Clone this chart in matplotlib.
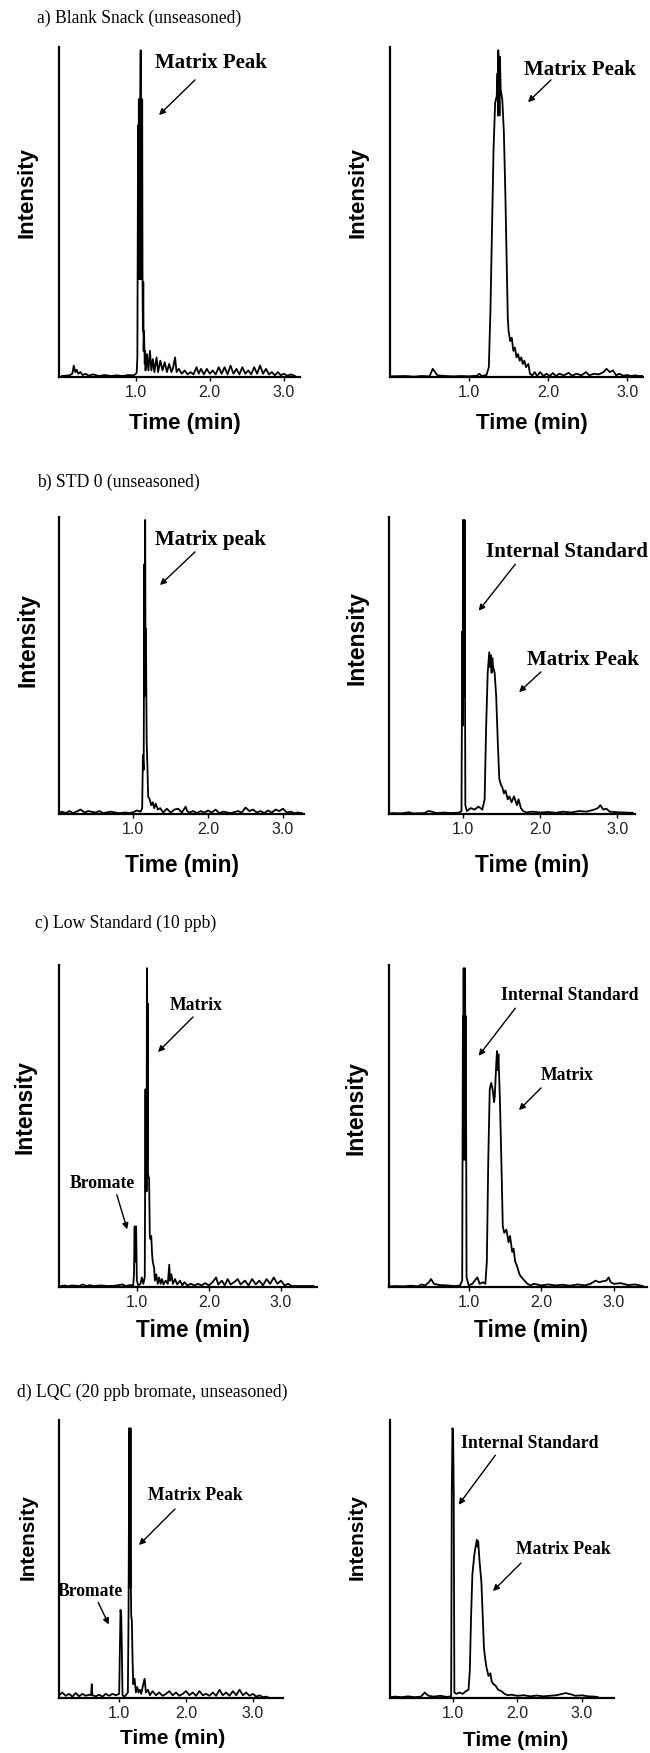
import matplotlib
matplotlib.use("Agg")
import matplotlib.pyplot as plt
import numpy as np

W, H = 650, 1753
SERIF = "Liberation Serif"
SANS = "Liberation Sans"

# chromatograms: (time in min, intensity in % of full scale)
a_left = [(0.0, 0.3), (0.1, 0.5), (0.14, 1.0), (0.16, 3.5), (0.18, 1.5), (0.2, 2.2), (0.22, 1.0),
          (0.25, 1.5), (0.28, 0.6), (0.32, 1.0), (0.36, 0.4), (0.42, 0.8), (0.5, 0.3), (0.58, 0.6),
          (0.66, 0.3), (0.74, 0.5), (0.82, 0.3), (0.9, 0.6), (0.97, 0.5), (1.01, 1.2), (1.02, 6),
          (1.03, 77), (1.035, 30), (1.04, 85), (1.045, 30), (1.05, 85), (1.055, 30), (1.06, 85),
          (1.065, 100), (1.07, 30), (1.075, 85), (1.08, 30), (1.085, 85), (1.09, 29), (1.095, 14),
          (1.10, 29), (1.105, 8), (1.11, 14), (1.12, 4), (1.125, 8), (1.13, 2), (1.15, 7), (1.17, 2),
          (1.19, 8), (1.21, 2), (1.23, 5.5), (1.25, 1.5), (1.28, 6), (1.30, 1.5), (1.33, 5), (1.36, 2),
          (1.39, 4.5), (1.42, 1.5), (1.45, 4), (1.48, 1.5), (1.5, 2.5), (1.53, 6), (1.55, 1.5),
          (1.58, 2.5), (1.62, 1), (1.66, 2), (1.7, 0.8), (1.74, 1.5), (1.78, 0.8), (1.82, 3),
          (1.85, 1), (1.88, 2.5), (1.92, 0.8), (1.96, 2.5), (2.0, 1), (2.04, 2), (2.08, 0.8),
          (2.12, 3), (2.16, 1), (2.2, 3), (2.24, 0.8), (2.28, 3.5), (2.32, 1), (2.36, 2.5), (2.4, 0.8),
          (2.44, 3), (2.48, 1), (2.52, 2), (2.56, 0.8), (2.6, 3), (2.64, 1), (2.68, 3.5), (2.72, 1),
          (2.76, 2.5), (2.8, 0.8), (2.84, 1.5), (2.88, 0.5), (2.92, 1.5), (2.96, 0.5), (3.0, 1),
          (3.05, 0.4), (3.1, 0.8), (3.15, 0.3)]

a_right = [(0.0, 0.2), (0.2, 0.3), (0.3, 0.1), (0.4, 0.3), (0.5, 0.2), (0.54, 2.5), (0.57, 1.5),
           (0.6, 0.5), (0.7, 0.3), (0.8, 0.2), (0.9, 0.3), (1.0, 0.2), (1.1, 0.4), (1.13, 1.0),
           (1.16, 0.3), (1.22, 0.6), (1.25, 3), (1.27, 20), (1.29, 45), (1.31, 70), (1.33, 84),
           (1.35, 86), (1.36, 93), (1.365, 80), (1.37, 100), (1.375, 85), (1.38, 90), (1.385, 80),
           (1.39, 98), (1.40, 88), (1.42, 85), (1.44, 75), (1.46, 55), (1.48, 30), (1.49, 18),
           (1.5, 14), (1.52, 11), (1.54, 12), (1.56, 8), (1.58, 9), (1.6, 6), (1.62, 7), (1.64, 5),
           (1.66, 6), (1.68, 4), (1.7, 5), (1.72, 3), (1.75, 4), (1.77, 1), (1.8, 0.5), (1.83, 1.5),
           (1.86, 0.3), (1.9, 1.5), (1.94, 0.3), (1.98, 1), (2.02, 0.3), (2.06, 1.2), (2.1, 0.3),
           (2.14, 1), (2.2, 0.5), (2.26, 1.3), (2.3, 0.4), (2.36, 1), (2.42, 0.5), (2.48, 1.5),
           (2.52, 0.5), (2.58, 1), (2.64, 0.8), (2.7, 1.5), (2.74, 2.5), (2.78, 1.5), (2.82, 2),
           (2.86, 0.5), (2.9, 1), (2.95, 0.4), (3.0, 0.6), (3.05, 0.3), (3.1, 0.5), (3.15, 0.3),
           (3.2, 0.3)]

b_left = [(0.01, 0.3), (0.05, 0.8), (0.1, 0.3), (0.15, 1), (0.2, 0.3), (0.3, 1.5), (0.35, 0.5),
          (0.4, 1), (0.5, 0.5), (0.55, 1), (0.6, 0.3), (0.7, 0.8), (0.8, 0.3), (0.9, 0.5), (0.95, 0.3),
          (1.0, 0.6), (1.05, 1.2), (1.1, 0.8), (1.12, 2), (1.13, 20), (1.14, 15), (1.15, 85),
          (1.155, 40), (1.16, 100), (1.165, 50), (1.17, 63), (1.18, 25), (1.19, 16), (1.2, 6),
          (1.22, 5), (1.24, 3), (1.26, 4), (1.28, 2), (1.3, 3.5), (1.33, 1.5), (1.36, 2), (1.4, 0.5),
          (1.45, 1.8), (1.5, 0.5), (1.55, 1.5), (1.6, 1.8), (1.65, 0.5), (1.7, 2.5), (1.72, 1),
          (1.75, 0.5), (1.8, 1), (1.85, 0.3), (1.9, 1), (1.95, 0.5), (2.0, 1.2), (2.05, 0.5),
          (2.1, 1.5), (2.15, 0.3), (2.2, 0.8), (2.3, 0.3), (2.4, 1), (2.45, 0.5), (2.5, 2.2),
          (2.55, 1), (2.6, 1.5), (2.65, 0.5), (2.7, 1), (2.75, 0.3), (2.8, 1.2), (2.85, 0.5),
          (2.9, 1.5), (2.95, 1), (3.0, 1.8), (3.05, 0.5), (3.1, 0.8), (3.15, 0.3), (3.2, 0.5),
          (3.25, 0.3)]

b_right = [(0.04, 0.2), (0.1, 0.3), (0.2, 0.2), (0.3, 0.6), (0.35, 0.2), (0.5, 0.3), (0.55, 1.0),
           (0.6, 0.8), (0.65, 0.3), (0.75, 0.5), (0.85, 0.3), (0.95, 0.5), (0.98, 1), (0.99, 62),
           (0.995, 30), (1.0, 100), (1.005, 40), (1.01, 63), (1.015, 40), (1.02, 100), (1.03, 3),
           (1.05, 1), (1.1, 2), (1.15, 1.5), (1.2, 2.5), (1.25, 1.5), (1.28, 5), (1.30, 30),
           (1.32, 48), (1.34, 55), (1.35, 50), (1.36, 54), (1.37, 48), (1.38, 53), (1.39, 50),
           (1.41, 48), (1.43, 40), (1.45, 25), (1.47, 12), (1.49, 10), (1.51, 9), (1.53, 7),
           (1.55, 8), (1.58, 5), (1.6, 6), (1.63, 4), (1.66, 6), (1.7, 3), (1.72, 5), (1.75, 2),
           (1.78, 1), (1.82, 0.5), (1.9, 0.8), (2.0, 0.5), (2.1, 0.7), (2.2, 0.4), (2.3, 0.8),
           (2.4, 0.5), (2.5, 1), (2.6, 0.8), (2.7, 1.5), (2.75, 2), (2.78, 3), (2.82, 1.5),
           (2.86, 1.8), (2.9, 0.8), (3.0, 0.6), (3.1, 0.5), (3.2, 0.4)]

c_left = [(-0.05, 0.3), (0.0, 0.5), (0.05, 0.2), (0.1, 0.5), (0.2, 0.3), (0.25, 0.8), (0.3, 0.3),
          (0.35, 0.6), (0.4, 0.3), (0.5, 0.5), (0.6, 0.3), (0.7, 0.4), (0.8, 0.8), (0.85, 0.3),
          (0.9, 0.6), (0.95, 0.5), (0.96, 4), (0.97, 19), (0.975, 8), (0.98, 15), (0.985, 8),
          (0.99, 19), (1.0, 2), (1.02, 0.5), (1.05, 1), (1.07, 3), (1.09, 1), (1.11, 3), (1.12, 62),
          (1.125, 30), (1.13, 60), (1.135, 30), (1.14, 100), (1.145, 40), (1.15, 89), (1.155, 35),
          (1.16, 35), (1.17, 34), (1.18, 16), (1.19, 15), (1.2, 16), (1.21, 11), (1.22, 8), (1.24, 6),
          (1.25, 2), (1.27, 4), (1.29, 1), (1.31, 3), (1.33, 1), (1.35, 2.5), (1.37, 0.8), (1.40, 2),
          (1.43, 1), (1.45, 7), (1.46, 2), (1.48, 4), (1.5, 1), (1.53, 2.5), (1.56, 0.8), (1.6, 2),
          (1.63, 0.5), (1.66, 1.5), (1.7, 0.5), (1.75, 1), (1.8, 0.5), (1.85, 1), (1.9, 0.5),
          (1.95, 1.2), (2.0, 0.5), (2.05, 1.5), (2.1, 3), (2.13, 0.8), (2.18, 2), (2.22, 0.5),
          (2.26, 2.5), (2.3, 0.8), (2.35, 1.5), (2.4, 2.5), (2.44, 0.8), (2.5, 2), (2.55, 0.5),
          (2.6, 2.5), (2.65, 0.8), (2.7, 2), (2.75, 0.5), (2.8, 2.5), (2.85, 1), (2.9, 3), (2.95, 1),
          (3.0, 2), (3.05, 0.5), (3.1, 1), (3.15, 0.3), (3.3, 0.3), (3.45, 0.3)]

c_right = [(-0.1, 0.2), (0.0, 0.3), (0.1, 0.2), (0.2, 0.4), (0.3, 0.2), (0.35, 0.8), (0.4, 0.5),
           (0.45, 1.5), (0.48, 2.5), (0.52, 1), (0.6, 0.6), (0.7, 0.5), (0.8, 0.3), (0.88, 0.5),
           (0.91, 2), (0.92, 85), (0.925, 40), (0.93, 100), (0.935, 40), (0.94, 90), (0.945, 40),
           (0.95, 100), (0.955, 40), (0.96, 85), (0.97, 3), (1.0, 0.5), (1.05, 1), (1.1, 2.5),
           (1.12, 3), (1.15, 1), (1.2, 1.5), (1.23, 1), (1.25, 8), (1.27, 40), (1.29, 62), (1.31, 64),
           (1.33, 62), (1.35, 58), (1.36, 60), (1.38, 70), (1.39, 74), (1.40, 68), (1.41, 73),
           (1.43, 59), (1.45, 40), (1.47, 19), (1.49, 17), (1.52, 18), (1.55, 14), (1.57, 16),
           (1.6, 11), (1.62, 12), (1.64, 8), (1.66, 7), (1.7, 4), (1.73, 3), (1.77, 2), (1.81, 1),
           (1.85, 0.5), (1.9, 1), (2.0, 0.5), (2.1, 0.8), (2.2, 0.5), (2.3, 0.7), (2.4, 0.4),
           (2.5, 0.8), (2.6, 0.5), (2.68, 1), (2.75, 2), (2.8, 1.5), (2.85, 1.8), (2.9, 2), (2.93, 3),
           (2.96, 1.5), (3.0, 1), (3.1, 1.2), (3.2, 0.6), (3.3, 0.8), (3.4, 0.3)]

d_left = [(0.1, 1), (0.15, 2), (0.2, 0.8), (0.25, 1.5), (0.3, 0.5), (0.35, 1.8), (0.4, 0.6),
          (0.45, 1.5), (0.5, 0.8), (0.55, 1.2), (0.58, 1), (0.59, 5), (0.6, 1), (0.65, 0.6),
          (0.7, 1.2), (0.75, 0.5), (0.8, 1.5), (0.85, 0.8), (0.9, 1.5), (0.95, 1), (1.0, 1.5),
          (1.02, 32), (1.03, 30), (1.04, 18), (1.05, 1), (1.08, 0.5), (1.1, 1), (1.13, 2),
          (1.14, 30), (1.145, 60), (1.15, 98), (1.155, 40), (1.16, 90), (1.165, 40), (1.17, 98),
          (1.175, 40), (1.18, 30), (1.19, 28), (1.20, 14), (1.21, 5), (1.23, 7), (1.25, 2), (1.27, 4),
          (1.29, 2), (1.31, 3), (1.33, 1.5), (1.36, 5), (1.38, 7), (1.4, 2), (1.43, 3), (1.46, 1),
          (1.5, 2.5), (1.55, 1), (1.6, 2), (1.65, 0.8), (1.7, 1.5), (1.75, 2.5), (1.8, 1), (1.85, 2),
          (1.9, 0.8), (1.95, 1.5), (2.0, 2.5), (2.05, 1), (2.1, 2), (2.15, 0.8), (2.2, 2.5),
          (2.25, 1), (2.3, 1.5), (2.35, 0.8), (2.4, 2), (2.45, 0.8), (2.5, 3), (2.55, 1), (2.6, 2),
          (2.65, 0.8), (2.7, 2.5), (2.75, 1), (2.8, 3), (2.85, 1), (2.9, 2), (2.95, 0.8), (3.0, 1.5),
          (3.05, 0.5), (3.1, 1), (3.15, 0.3), (3.2, 0.5), (3.25, 0)]

d_right = [(0.02, 0.3), (0.1, 0.5), (0.2, 0.3), (0.3, 0.6), (0.4, 0.3), (0.5, 0.5), (0.56, 2),
           (0.58, 1.5), (0.62, 0.8), (0.7, 0.5), (0.8, 0.8), (0.9, 0.4), (0.97, 0.6), (0.98, 75),
           (0.99, 98), (1.0, 97), (1.01, 75), (1.02, 2), (1.05, 1.5), (1.1, 2), (1.15, 1.5),
           (1.2, 2.5), (1.24, 3), (1.26, 10), (1.28, 30), (1.30, 45), (1.33, 52), (1.35, 55),
           (1.37, 57.5), (1.38, 55), (1.39, 57), (1.41, 50), (1.44, 42), (1.46, 30), (1.48, 18),
           (1.5, 14), (1.52, 11), (1.55, 8), (1.58, 9), (1.6, 6), (1.63, 5), (1.66, 4.5), (1.7, 3),
           (1.75, 2.5), (1.8, 1.5), (1.85, 1), (1.9, 1.2), (2.0, 0.8), (2.1, 1), (2.2, 0.6),
           (2.3, 0.9), (2.4, 0.6), (2.5, 0.8), (2.6, 1), (2.7, 1.5), (2.75, 1.8), (2.8, 1.5),
           (2.85, 1.2), (2.9, 0.8), (3.0, 1), (3.1, 0.6), (3.2, 0.5), (3.25, 0.3)]

titles = ["a) Blank Snack (unseasoned)", "b) STD 0 (unseasoned)",
          "c) Low Standard (10 ppb)", "d) LQC (20 ppb bromate, unseasoned)"]
tick_vals = [1.0, 2.0, 3.0]
tick_labels = ["1.0", "2.0", "3.0"]


def fx(x):
    return x / W


def fy(y):
    return 1 - y / H


fig = plt.figure(figsize=(W / 100, H / 100), dpi=100)

# trace, axes box in px (left, top, right, bottom), xlim
panels = [
    (a_left, (59, 47, 300, 377), (-0.04, 3.22)),
    (a_right, (390, 47, 643, 377), (0.0, 3.2)),
    (b_left, (59, 517, 304, 814), (0.01, 3.28)),
    (b_right, (389, 517, 635, 814), (0.04, 3.23)),
    (c_left, (59, 965, 317, 1287), (-0.08, 3.5)),
    (c_right, (389, 965, 647, 1287), (-0.1, 3.46)),
    (d_left, (59, 1420, 283, 1698), (0.1, 3.45)),
    (d_right, (390, 1420, 614, 1698), (0.02, 3.5)),
]

for trace, (x0, y0, x1, y1), xlim in panels:
    ax = fig.add_axes([fx(x0), fy(y1), (x1 - x0) / W, (y1 - y0) / H])
    t, inten = np.array(trace).T
    ax.plot(t, inten, color="k", lw=1.3)
    ax.set_xlim(*xlim)
    ax.set_ylim(0, 101)
    ax.set_yticks([])
    ax.set_xticks(tick_vals)
    ax.set_xticklabels(tick_labels, family=SANS, fontsize=11.5, color="#222222")
    ax.tick_params(axis="x", length=3, width=1, pad=3)
    for s in ["top", "right"]:
        ax.spines[s].set_visible(False)
    for s in ["left", "bottom"]:
        ax.spines[s].set_linewidth(1.6)
    ax.patch.set_alpha(0)

# panel titles
for txt, (x, y) in zip(titles, [(37, 18), (37, 482), (35, 923), (17, 1392)]):
    fig.text(fx(x), fy(y), txt, family=SERIF, fontsize=12.7, ha="left", va="center")

# axis labels
ylab = [(27, 192, 16), (358, 192, 16), (28, 640, 16.5), (357, 638, 16.5),
        (25, 1107, 16.5), (356, 1108, 16.5), (28, 1537, 15), (357, 1537, 15)]
for x, y, fs in ylab:
    fig.text(fx(x), fy(y), "Intensity", family=SANS, weight="bold", fontsize=fs,
             rotation=90, ha="center", va="center")

xlab = [(185, 423, 16), (532, 423, 16), (182, 865, 16.3), (532, 865, 16.3),
        (193, 1330, 16.3), (531, 1330, 16.3), (173, 1738, 15), (516, 1741, 15)]
for x, y, fs in xlab:
    fig.text(fx(x), fy(y), "Time (min)", family=SANS, weight="bold", fontsize=fs,
             ha="center", va="center")

# peak annotations: text, text centre, arrow tail, arrow tip, font size
notes = [
    ("Matrix Peak", (211, 63), (197, 78), (157, 117), 15),
    ("Matrix Peak", (580, 70), (553, 78), (526, 104), 15),
    ("Matrix peak", (210, 540), (197, 550), (158, 587), 15),
    ("Internal Standard", (567, 552), (517, 562), (477, 613), 15),
    ("Matrix Peak", (583, 660), (543, 670), (517, 694), 15),
    ("Matrix", (196, 1005), (195, 1015), (156, 1054), 12.7),
    ("Bromate", (102, 1183), (116, 1192), (128, 1232), 12.7),
    ("Internal Standard", (570, 995), (517, 1006), (477, 1058), 12.7),
    ("Matrix", (567, 1075), (543, 1086), (517, 1112), 12.7),
    ("Matrix Peak", (195, 1495), (177, 1507), (137, 1547), 12.7),
    ("Bromate", (90, 1592), (97, 1600), (110, 1627), 12.7),
    ("Internal Standard", (530, 1443), (497, 1453), (457, 1507), 12.7),
    ("Matrix Peak", (563, 1550), (523, 1561), (491, 1593), 12.7),
]
for txt, (tx, ty), (ax0, ay0), (ax1, ay1), fs in notes:
    fig.text(fx(tx), fy(ty), txt, family=SERIF, weight="bold", fontsize=fs,
             ha="center", va="center")
    fig.add_artist(matplotlib.patches.FancyArrowPatch(
        (fx(ax0), fy(ay0)), (fx(ax1), fy(ay1)), transform=fig.transFigure,
        arrowstyle="-|>", mutation_scale=9, lw=1.0, color="k"))

fig.savefig("out.png", dpi=100)
